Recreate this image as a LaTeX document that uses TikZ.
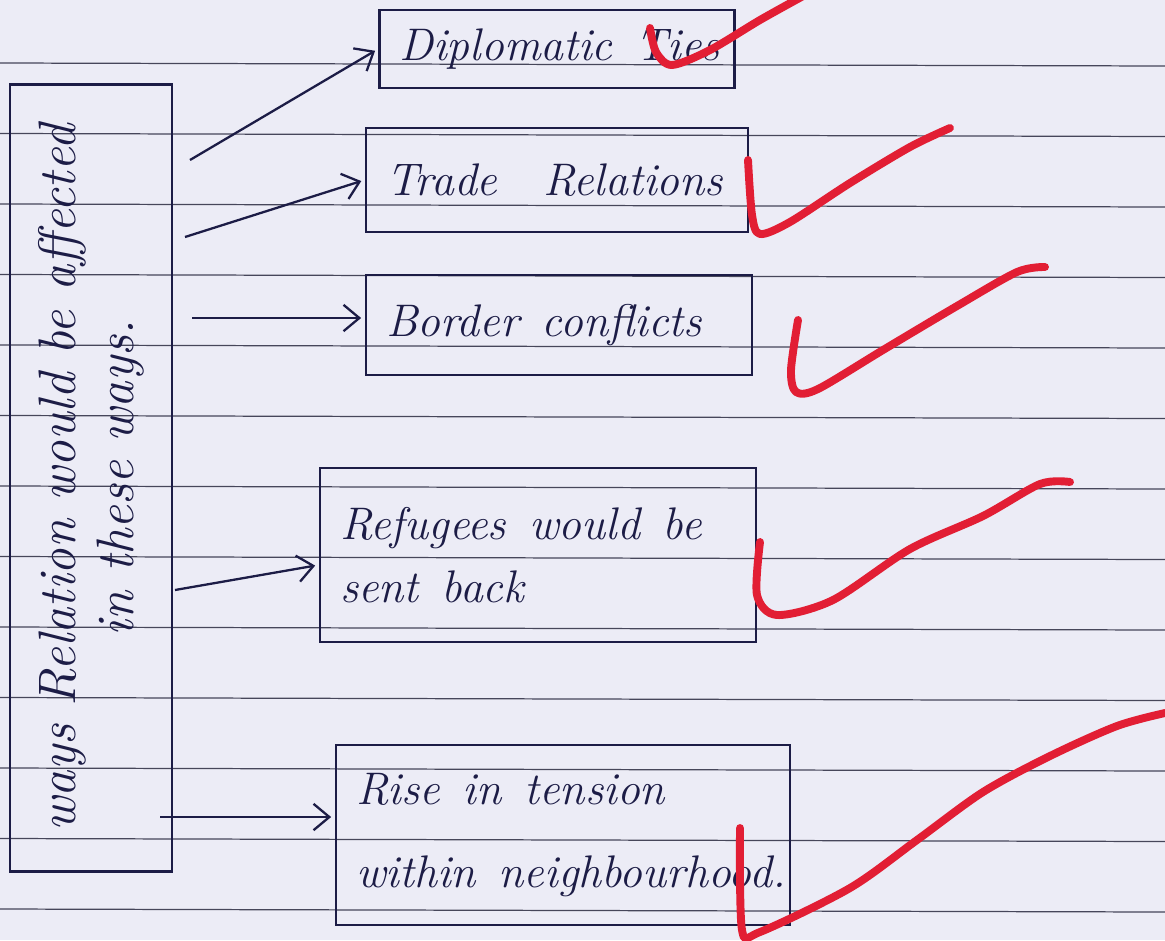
\documentclass[tikz,border=0pt]{standalone}
\usetikzlibrary{arrows.meta}
\definecolor{paper}{RGB}{236,236,246}
\definecolor{ink}{RGB}{28,28,70}
\definecolor{ruling}{RGB}{70,70,90}
\definecolor{tick}{RGB}{226,30,52}
\begin{document}
\begin{tikzpicture}[x=0.02cm, y=-0.02cm,
		hand/.style = {font=\fontsize{26}{36}\selectfont\itshape, text=ink},
		box/.style = {draw=ink, line width=1.6pt, hand, align=left, inner xsep=0.4cm},
		rule/.style = {draw=ruling, line width=0.7pt},
		arr/.style = {draw=ink, line width=1.3pt, shorten >=2pt, -{Straight Barb[length=9pt,width=15pt]}},
		tickmark/.style = {draw=tick, line width=4.5pt, line cap=round, line join=round}]
		\useasboundingbox (0,0) rectangle (1165,940);
		\clip (0,0) rectangle (1165,940);
		\fill[paper] (0,0) rectangle (1165,940);
		\foreach \k in {0,...,12}
			\draw[rule] (0,63+70.5*\k) -- (1165,66+70.5*\k);
		\node [box, rotate=90, align=center, minimum width=15.74cm, minimum height=3.24cm,
			font=\fontsize{30}{33}\selectfont\itshape] (lbox) at (91,478)
			{ways Relation would be affected\\ in these ways.};
		\node [box, minimum width=7.1cm, minimum height=1.56cm, text width=6.3cm] (diplo) at (557,49) {Diplomatic\enspace Ties};
		\node [box, minimum width=7.64cm, minimum height=2.08cm, text width=6.84cm] (trade) at (557,180) {Trade\quad Relations};
		\node [box, minimum width=7.72cm, minimum height=2.0cm, text width=6.92cm] (border) at (559,325) {Border\enspace conflicts};
		\node [box, minimum width=8.72cm, minimum height=3.48cm, text width=7.92cm] (refug) at (538,555) {Refugees\enspace would\enspace be\\ sent\enspace back};
		\node [box, minimum width=9.08cm, minimum height=3.6cm, text width=8.28cm] (rise) at (563,835) {Rise\enspace in\enspace tension\\[0.4cm] within\enspace neighbourhood.};
		\coordinate (s1) at (190,160);
		\coordinate (s2) at (185,237);
		\coordinate (s3) at (192,318);
		\coordinate (s4) at (175,590);
		\coordinate (s5) at (160,817);
		\draw[arr] (s1) -- (diplo.west);
		\draw[arr] (s2) -- (trade.west);
		\draw[arr] (s3) -- (border.west |- s3);
		\draw[arr] (s4) -- (refug.west |- 0,565);
		\draw[arr] (s5) -- (rise.west |- s5);
		\draw[tickmark] plot[smooth] coordinates {(650,28) (656,52) (672,65) (710,50) (760,20) (805,-5)};
		\draw[tickmark] plot[smooth] coordinates {(748,160) (752,215) (760,234) (790,222) (850,183) (910,147) (950,128)};
		\draw[tickmark] plot[smooth] coordinates {(798,320) (791,370) (796,392) (818,389) (883,350) (957,306) (1017,272) (1045,267)};
		\draw[tickmark] plot[smooth] coordinates {(760,542) (757,595) (777,615) (833,600) (910,549) (983,516) (1040,484) (1070,482)};
		\draw[tickmark] plot[smooth] coordinates {(740,828) (742,930) (760,932) (850,888) (917,840) (983,792) (1050,756) (1117,726) (1165,713)};
	\end{tikzpicture}
\end{document}
